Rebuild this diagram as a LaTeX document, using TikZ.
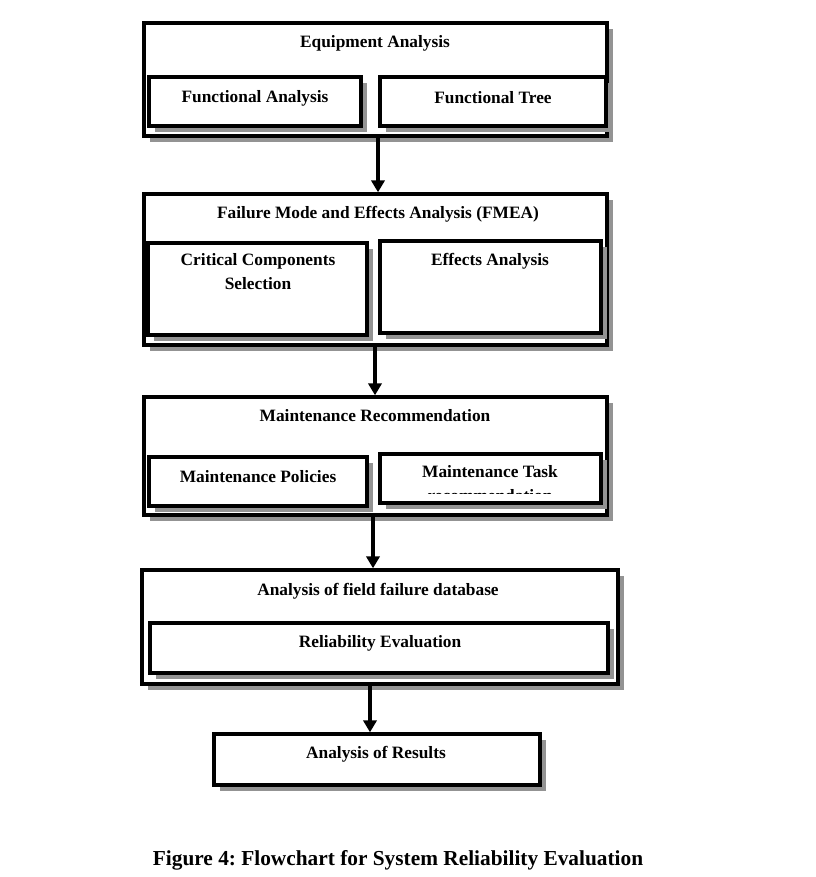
\documentclass[tikz,border=0pt]{standalone}
\usepackage{fontspec}
\setmainfont{Liberation Serif}
\usetikzlibrary{arrows.meta, fit, shadows}

\tikzset{
  bigbox/.style = {draw, line width=2.6pt, fill=white, inner sep=0pt,
    drop shadow={shadow xshift=4.5pt, shadow yshift=-4.5pt, fill=gray!85, opacity=1}},
  smallbox/.style = {bigbox},
  boxtext/.style = {font=\bfseries\fontsize{13}{18}\selectfont, align=center, inner sep=0pt, yshift=-1.5pt},
  flow/.style = {line width=2.4pt, -{Triangle[width=10pt,length=9pt]}}
}

\begin{document}
\frenchspacing
\begin{tikzpicture}[x=0.75pt, y=-0.75pt]
        \useasboundingbox (0,0) rectangle (815,877);

        % Equipment analysis
        \node[bigbox, fit={(144,23) (607,136)}] (equip) {};
        \node[smallbox, fit={(149,77) (361,126)}] (funcan) {};
        \node[smallbox, fit={(380,77) (606,126)}] (functree) {};
        \node[boxtext] (tequip) at (375,41) {Equipment Analysis};
        \node[boxtext] (tfuncan) at (255,96) {Functional Analysis};
        \node[boxtext] (tfunctree) at (493,96) {Functional Tree};

        % FMEA
        \node[bigbox, fit={(144,194) (607,345)}] (fmea) {};
        \node[smallbox, fit={(148,243) (367,335)}] (critcomp) {};
        \node[smallbox, fit={(380,241) (601,333)}] (effects) {};
        \node[boxtext] (tfmea) at (378,212) {Failure Mode and Effects Analysis (FMEA)};
        \node[boxtext, anchor=north] (tcritcomp) at (258,251) {Critical Components\\Selection};
        \node[boxtext] (teffects) at (490,259) {Effects Analysis};

        % Maintenance
        \node[bigbox, fit={(144,397) (607,515)}] (maint) {};
        \node[smallbox, fit={(149,457) (367,506)}] (policies) {};
        \node[smallbox, fit={(380,454) (601,503)}] (task) {};
        \node[boxtext] (tmaint) at (375,414) {Maintenance Recommendation};
        \node[boxtext] (tpolicies) at (258,475) {Maintenance Policies};
        \begin{scope}
        \clip (380,454) rectangle (601,493);
        \node[boxtext, anchor=north] (ttask) at (490,463) {Maintenance Task\\recommendation};
        \end{scope}

        % field failure data
        \node[bigbox, fit={(142,570) (618,684)}] (field) {};
        \node[smallbox, fit={(150,623) (608,673)}] (reliab) {};
        \node[boxtext] (tfield) at (378,589) {Analysis of field failure database};
        \node[boxtext] (treliab) at (380,641) {Reliability Evaluation};

        \node[bigbox, fit={(214,734) (540,785)}] (results) {};
        \node[boxtext] (tresults) at (376,752) {Analysis of Results};

        \coordinate (a1) at (378,0);
        \coordinate (a2) at (375,0);
        \coordinate (a3) at (373,0);
        \coordinate (a4) at (370,0);

        \draw[flow] (equip.south -| a1) -- (fmea.north -| a1);
        \draw[flow] (fmea.south -| a2) -- (maint.north -| a2);
        \draw[flow] (maint.south -| a3) -- (field.north -| a3);
        \draw[flow] (field.south -| a4) -- (results.north -| a4);

        \node[font=\bfseries\fontsize{16}{19}\selectfont] (caption) at (398,860)
            {Figure 4: Flowchart for System Reliability Evaluation};
\end{tikzpicture}
\end{document}
